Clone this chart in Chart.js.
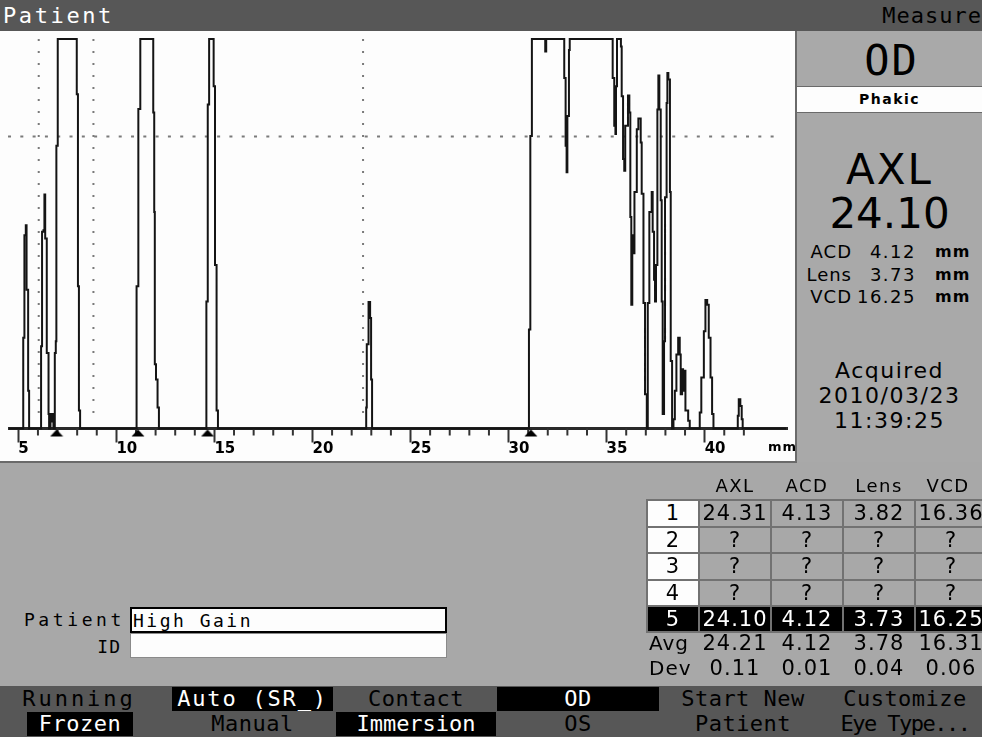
<!DOCTYPE html>
<html>
<head>
<meta charset="utf-8">
<title>A-Scan Measure</title>
<script src="https://cdn.jsdelivr.net/npm/chart.js@4.4.1/dist/chart.umd.min.js"></script>
<style>
  html, body { margin: 0; padding: 0; }
  body { width: 982px; height: 737px; overflow: hidden; position: relative; background: #a8a8a8; font-family: "DejaVu Sans", sans-serif; color: #000; }
  .t { position: absolute; line-height: 1; white-space: nowrap; }
  .mono { font-family: "DejaVu Sans Mono", monospace; }
  #topbar { position: absolute; left: 0; top: 0; width: 982px; height: 31px; background: #575757; }
  #scan { position: absolute; left: 0; top: 31px; width: 795px; height: 430px; background: #fdfdfd; }
  #scanEdge { position: absolute; left: 0; top: 461px; width: 797px; height: 2px; background: #6a6a6a; }
  #panel { position: absolute; left: 795px; top: 31px; width: 187px; height: 431px; background: #a9a9a9; border-left: 2px solid #6a6a6a; box-sizing: border-box; }
  #phakic { position: absolute; left: 797px; top: 86px; width: 185px; height: 27px; background: #fdfdfd; border-top: 1px solid #6a6a6a; border-bottom: 1px solid #6a6a6a; box-sizing: border-box; text-align: center; font: bold 14px "DejaVu Sans", sans-serif; letter-spacing: 1.5px; line-height: 25px; }
  .cell { position: absolute; box-sizing: border-box; border: 2px solid #727272; text-align: center; font-size: 21px; letter-spacing: 1px; }
  .box { position: absolute; box-sizing: border-box; background: #fdfdfd; }
  #keys { position: absolute; left: 0; top: 686px; width: 982px; height: 51px; background: #575757; }
  .key { position: absolute; text-align: center; font: 22px "DejaVu Sans Mono", monospace; color: #000; }
  .key.on { background: #000; color: #fff; }
</style>
</head>
<body>
<div id="topbar"></div>
<div class="t mono" style="left:3px;top:5px;font-size:22px;letter-spacing:2.6px;color:#fff">Patient</div>
<div class="t mono" style="right:0;top:5px;font-size:22px;letter-spacing:1px;color:#000">Measure</div>

<div id="scan"><canvas id="ascan" width="795" height="430"></canvas></div>
<div id="scanEdge"></div>
<div class="t" style="left:768px;top:440px;font-weight:bold;font-size:13px;letter-spacing:1px">mm</div>

<div id="panel"></div>
<div id="sidePanel"></div>

<div id="patientForm"></div>
<div id="readings"></div>
<div id="keys"></div>

<script>
// ---- A-scan trace: [depth mm, echo amplitude %] ----
const probeEchoes = [
  [5.21, 0], [5.25, 23.3], [5.28, 23.3], [5.31, 49.6], [5.38, 52.2], [5.42, 35.6], [5.50, 9.7], [5.55, 0],
  [6.14, 0], [6.16, 21.1], [6.21, 50.5], [6.28, 50.9], [6.33, 60.1], [6.37, 48.8], [6.45, 19.4], [6.54, 3.7], [6.57, 0],
  [6.64, 3.7], [6.69, 1.8], [6.74, 3.7], [6.79, 0]
];
const corneaEcho = [
  [6.82, 0], [6.86, 19.4], [6.91, 22.4], [6.94, 72.6], [7.01, 100], [7.93, 100], [7.98, 85.8], [8.04, 36.5], [8.09, 4.6], [8.15, 0]
];
const lensFrontEcho = [
  [11.01, 0], [11.03, 36.5], [11.12, 82.0], [11.22, 100], [11.86, 100], [11.88, 81.1], [11.93, 55.6], [11.96, 16.5], [12.02, 12.6], [12.10, 5.4], [12.17, 0]
];
const lensBackEcho = [
  [14.56, 0], [14.59, 32.6], [14.66, 83.2], [14.73, 100], [14.95, 100], [14.96, 87.9], [15.03, 42.0], [15.11, 4.6], [15.18, 0]
];
const vitreousEcho = [
  [22.71, 0], [22.74, 5.4], [22.77, 21.6], [22.86, 32.5], [22.94, 28.4], [22.99, 12.6], [23.04, 0]
];
const retinaEcho = [
  [31.02, 0], [31.04, 25.4], [31.11, 75.1], [31.19, 100], [31.82, 100], [31.87, 96.8], [31.92, 100],
  [32.83, 100], [32.84, 90.0], [32.91, 72.6], [32.96, 65.8], [33.00, 80.2], [33.08, 97.2], [33.12, 100],
  [35.28, 100], [35.31, 90.0], [35.39, 77.7], [35.45, 75.6], [35.48, 87.9], [35.53, 100], [35.65, 100],
  [35.73, 98.1], [35.77, 85.3], [35.84, 69.2], [35.90, 66.2], [35.95, 77.7], [36.09, 85.5], [36.16, 81.1],
  [36.21, 54.3], [36.26, 31.8], [36.31, 49.6], [36.37, 45.0], [36.42, 60.7], [36.54, 76.8], [36.62, 79.6],
  [36.74, 73.4], [36.79, 60.3], [36.88, 32.2], [36.96, 8.8], [37.05, 0], [37.10, 32.2], [37.18, 55.6],
  [37.30, 60.7], [37.35, 50.5], [37.42, 38.2], [37.47, 32.6], [37.52, 42.0], [37.59, 81.9], [37.64, 90.6],
  [37.69, 81.9], [37.76, 58.6], [37.81, 32.6], [37.86, 3.7], [37.93, 22.4], [37.98, 59.4], [38.06, 83.6],
  [38.10, 91.3], [38.15, 89.6], [38.23, 60.7], [38.27, 17.3], [38.34, 0]
];
const orbitEchoes = [
  [38.41, 2.4], [38.48, 9.7], [38.56, 19.0], [38.65, 23.3], [38.73, 19.0], [38.78, 8.8], [38.85, 15.2],
  [38.90, 9.7], [38.95, 14.8], [39.02, 4.6], [39.16, 2.0], [39.24, 0],
  [39.70, 0], [39.75, 4.1], [39.83, 13.1], [39.96, 25.0], [40.04, 33.0], [40.13, 31.8], [40.21, 23.3],
  [40.30, 13.1], [40.38, 3.7], [40.45, 0],
  [41.65, 0], [41.69, 3.3], [41.74, 7.5], [41.82, 5.8], [41.89, 2.4], [41.94, 0]
];

const depthRangeMm = [4.524, 44.20];
const majorTicksMm = [5, 10, 15, 20, 25, 30, 35, 40];
const gateMarkersMm = [6.95, 11.10, 14.65, 31.14];
const gateLinesMm = [6.04, 8.83, 22.58];
const thresholdPct = 75;

// ---- measurement readout ----
const eyeSide = 'OD';
const eyeType = 'Phakic';
const currentAxl = '24.10';
const currentParts = [['ACD', '4.12'], ['Lens', '3.73'], ['VCD', '16.25']];
const acquiredLines = ['Acquired', '2010/03/23', '11:39:25'];
const tableHeader = ['AXL', 'ACD', 'Lens', 'VCD'];
const readingRows = [
  ['1', '24.31', '4.13', '3.82', '16.36'],
  ['2', '?', '?', '?', '?'],
  ['3', '?', '?', '?', '?'],
  ['4', '?', '?', '?', '?'],
  ['5', '24.10', '4.12', '3.73', '16.25']
];
const selectedRow = 4;
const avgRow = ['Avg', '24.21', '4.12', '3.78', '16.31'];
const devRow = ['Dev', '0.11', '0.01', '0.04', '0.06'];
const patientName = 'High Gain';
const patientId = '';

const softKeys = [
  { label: 'Running',     x: 18,  w: 122, row: 0, on: false, ls: 3 },
  { label: 'Auto (SR_)',  x: 172, w: 161, row: 0, on: true,  ls: 1.8 },
  { label: 'Contact',     x: 346, w: 140, row: 0, on: false, ls: 0.5 },
  { label: 'OD',          x: 497, w: 162, row: 0, on: true,  ls: 0.5 },
  { label: 'Start New',   x: 665, w: 156, row: 0, on: false, ls: 0.5 },
  { label: 'Customize',   x: 828, w: 154, row: 0, on: false, ls: 0.5 },
  { label: 'Frozen',      x: 27,  w: 106, row: 1, on: true,  ls: 0.5 },
  { label: 'Manual',      x: 172, w: 161, row: 1, on: false, ls: 0.5 },
  { label: 'Immersion',   x: 336, w: 160, row: 1, on: true,  ls: 0 },
  { label: 'OS',          x: 497, w: 162, row: 1, on: false, ls: 0.5 },
  { label: 'Patient',     x: 665, w: 156, row: 1, on: false, ls: 0.5 },
  { label: 'Eye Type...', x: 828, w: 154, row: 1, on: false, ls: -1.5 }
];

// ---- DOM helpers ----
function put(parent, html, css, cls) {
  const d = document.createElement('div');
  d.className = cls || 't';
  d.textContent = html;
  d.style.cssText = css;
  parent.appendChild(d);
  return d;
}

// side panel readout
const side = document.getElementById('sidePanel');
put(side, eyeSide, 'left:799px;width:185px;text-align:center;top:36px;font:42px "DejaVu Sans Mono",monospace;letter-spacing:2px;');
put(side, eyeType, '', 'x').id = 'phakic';
put(side, 'AXL', 'left:797px;width:185px;text-align:center;top:149px;font-size:42px;letter-spacing:2px;');
put(side, currentAxl, 'left:797px;width:185px;text-align:center;top:193px;font-size:42px;');
currentParts.forEach(([name, val], i) => {
  const top = 243 + i * 22.5;
  put(side, name, `right:${982 - 852}px;top:${top}px;font-size:18px;letter-spacing:1px;`);
  put(side, val, `right:${982 - 916}px;top:${top}px;font-size:18px;letter-spacing:1.5px;`);
  put(side, 'mm', `left:935px;top:${top + 1}px;font-weight:bold;font-size:16px;letter-spacing:1px;`);
});
acquiredLines.forEach((s, i) => {
  put(side, s, `left:797px;width:185px;text-align:center;top:${360 + i * 25}px;font-size:22px;letter-spacing:1.5px;`);
});

// patient entry fields
const form = document.getElementById('patientForm');
put(form, 'Patient', 'right:857px;top:609px;font:18px "DejaVu Sans Mono",monospace;letter-spacing:3.6px;');
put(form, '', 'left:130px;top:607px;width:317px;height:26px;border:2px solid #000;', 'box');
put(form, patientName, 'left:133px;top:610px;font:18px "DejaVu Sans Mono",monospace;letter-spacing:2.5px;');
put(form, 'ID', 'right:861px;top:636px;font:18px "DejaVu Sans Mono",monospace;letter-spacing:1px;');
put(form, patientId, 'left:130px;top:633px;width:317px;height:25px;border:1px solid #8a8a8a;', 'box');

// readings table
const tbl = document.getElementById('readings');
const colX = [647, 699, 771, 843, 915, 987];
const rowY = [500, 527, 553, 580, 606, 632];
tableHeader.forEach((h, c) => {
  const cx = (colX[c + 1] + colX[c + 2]) / 2 - (c === 3 ? 3 : 0);
  put(tbl, h, `left:${cx - 40}px;width:80px;text-align:center;top:477px;font-size:18px;letter-spacing:1.5px;`);
});
readingRows.forEach((r, ri) => {
  r.forEach((v, c) => {
    const sel = ri === selectedRow;
    const bg = sel ? '#000' : (c === 0 ? '#fdfdfd' : '#a8a8a8');
    const x0 = colX[c] - 1, x1 = colX[c + 1] + 1, y0 = rowY[ri] - 1, y1 = rowY[ri + 1] + 1;
    put(tbl, v, `left:${x0}px;top:${y0}px;width:${x1 - x0}px;height:${y1 - y0}px;line-height:${y1 - y0 - 4}px;background:${bg};color:${sel ? '#fff' : '#000'};`, 'cell');
  });
});
[avgRow, devRow].forEach((r, ri) => {
  const top = 632 + ri * 25;
  r.forEach((v, c) => {
    if (c === 0) {
      put(tbl, v, `left:649px;top:${top}px;font-size:20px;letter-spacing:1px;line-height:22px;`);
    } else {
      const cx = (colX[c] + colX[c + 1]) / 2;
      put(tbl, v, `left:${cx - 40}px;width:80px;text-align:center;top:${top}px;font-size:21px;letter-spacing:1px;line-height:22px;`);
    }
  });
});

// soft keys
const keys = document.getElementById('keys');
softKeys.forEach(k => {
  put(keys, k.label, `left:${k.x}px;top:${k.row ? 26 : 1}px;width:${k.w}px;height:24px;line-height:24px;letter-spacing:${k.ls}px;`, 'key' + (k.on ? ' on' : ''));
});

// ---- chart ----
const echoTrace = [[depthRangeMm[0], 0]].concat(
  probeEchoes, corneaEcho, lensFrontEcho, lensBackEcho, vitreousEcho, retinaEcho, orbitEchoes,
  [[44.15, 0]]
).map(([x, y]) => ({ x, y }));

// gate marker glyph: small filled triangle sitting just under the baseline
const gateGlyph = document.createElement('canvas');
gateGlyph.width = 14; gateGlyph.height = 18;
(() => {
  const g = gateGlyph.getContext('2d');
  g.fillStyle = '#000';
  g.beginPath(); g.moveTo(7, 10); g.lineTo(13.5, 17); g.lineTo(0.5, 17); g.closePath(); g.fill();
})();

const minorTicks = {
  id: 'minorTicks',
  beforeDatasetsDraw(chart) {
    const { ctx, chartArea, scales: { x } } = chart;
    ctx.save();
    ctx.strokeStyle = '#333';
    ctx.lineWidth = 2;
    for (let v = Math.ceil(x.min); v <= 42; v++) {
      if (v % 5 === 0) continue;
      const px = x.getPixelForValue(v);
      ctx.beginPath();
      ctx.moveTo(px, chartArea.bottom);
      ctx.lineTo(px, chartArea.bottom + 7);
      ctx.stroke();
    }
    ctx.restore();
  }
};

const dotted = (data, dash) => ({
  type: 'line', data, borderColor: '#7a7a7a', borderWidth: 2, borderDash: dash,
  borderCapStyle: 'butt', pointRadius: 0, tension: 0, clip: false
});

new Chart(document.getElementById('ascan'), {
  type: 'line',
  data: {
    datasets: [
      { type: 'scatter', data: gateMarkersMm.map(v => ({ x: v, y: 0 })), pointStyle: gateGlyph, pointRadius: 7, showLine: false, clip: false },
      { data: echoTrace, borderColor: '#141414', borderWidth: 2, pointRadius: 0, tension: 0, stepped: 'before', fill: false, clip: 2 },
      dotted([{ x: depthRangeMm[0] - 0.05, y: thresholdPct }, { x: 43.8, y: thresholdPct }], [3, 9.3]),
      ...gateLinesMm.map(v => dotted([{ x: v, y: 100 }, { x: v, y: 1.5 }], [2, 10]))
    ]
  },
  options: {
    responsive: false,
    animation: false,
    events: [],
    layout: { padding: { left: 9, right: 2, top: 5, bottom: 0 } },
    plugins: { legend: { display: false }, tooltip: { enabled: false } },
    scales: {
      x: {
        type: 'linear',
        position: 'bottom',
        min: depthRangeMm[0],
        max: depthRangeMm[1],
        afterFit: s => { s.height = 32.5; },
        afterBuildTicks: s => { s.ticks = majorTicksMm.map(v => ({ value: v })); },
        grid: { drawOnChartArea: false, tickLength: 14, tickWidth: 2, tickColor: '#333' },
        border: { display: true, width: 3, color: '#2a2a2a' },
        ticks: {
          align: 'start', padding: -2, color: '#000', maxRotation: 0, autoSkip: false,
          font: { family: 'DejaVu Sans', weight: 'bold', size: 15, lineHeight: 1.2 },
          callback: v => String(v)
        }
      },
      y: { min: 0, max: 100, display: false }
    }
  },
  plugins: [minorTicks]
});
</script>
</body>
</html>
